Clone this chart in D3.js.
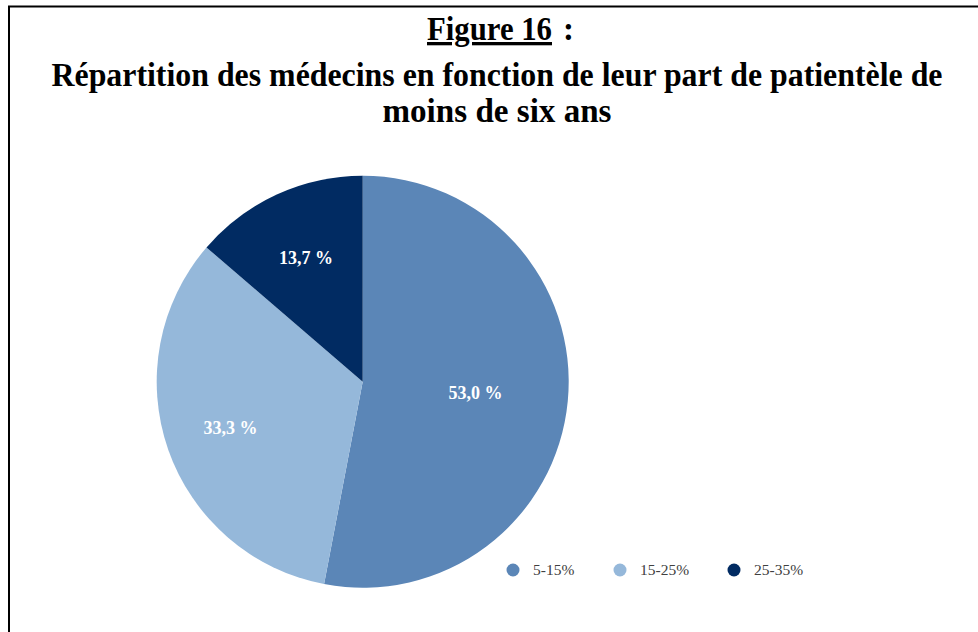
<!DOCTYPE html>
<html>
<head>
<meta charset="utf-8">
<script src="https://cdn.jsdelivr.net/npm/d3@7"></script>
<style>
  body { margin: 0; background: #fff; }
  svg { display: block; }
</style>
</head>
<body>
<svg id="drawing_region"></svg>
<script>
// data
const categories = ["5-15%", "15-25%", "25-35%"];
const shares = [53.0, 33.3, 13.7];
const shareLabels = ["53,0 %", "33,3 %", "13,7 %"];
const colors = ["#5b86b7", "#95b8da", "#012b62"];

const width = 978, height = 632;

const svg = d3.select("#drawing_region")
    .attr("width", width)
    .attr("height", height);

// frame (right and bottom edges fall outside the picture)
svg.append("rect")
    .attr("x", 9).attr("y", 6.5)
    .attr("width", 1000).attr("height", 700)
    .attr("fill", "none")
    .attr("stroke", "#000")
    .attr("stroke-width", 2);

// title, three lines, fitted to the widths seen in the reference
const titleFont = "'Liberation Serif', 'Times New Roman', serif";
const title = svg.append("g")
    .attr("font-family", titleFont)
    .attr("font-weight", "bold")
    .attr("font-size", 33)
    .attr("fill", "#000");

title.append("text")
    .attr("x", 427).attr("y", 40)
    .attr("textLength", 125)
    .attr("lengthAdjust", "spacingAndGlyphs")
    .attr("text-decoration", "underline")
    .text("Figure 16");
title.append("text")
    .attr("x", 563).attr("y", 40)
    .text(":");

const titleLines = [
    { text: "Répartition des médecins en fonction de leur part de patientèle de", y: 86, w: 891 },
    { text: "moins de six ans", y: 122, w: 229 }
];
titleLines.forEach(l => {
    title.append("text")
        .attr("x", 497).attr("y", l.y)
        .attr("text-anchor", "middle")
        .attr("textLength", l.w)
        .attr("lengthAdjust", "spacingAndGlyphs")
        .text(l.text);
});

// pie
const cx = 362.7, cy = 381.7, radius = 206;
const chart = svg.append("g")
    .attr("transform", `translate(${cx}, ${cy})`);

const pie = d3.pie().sort(null).value(d => d);
const arcs = pie(shares);
const arc = d3.arc().innerRadius(0).outerRadius(radius);

chart.selectAll("path")
    .data(arcs)
    .enter()
    .append("path")
    .attr("d", arc)
    .attr("fill", (d, i) => colors[i]);

// labels sit a bit closer to the centre on the large slice
const labelFactor = [0.55, 0.68, 0.66];
chart.selectAll("text.lbl")
    .data(arcs)
    .enter()
    .append("text")
    .attr("class", "lbl")
    .attr("transform", (d, i) => {
        const r = radius * labelFactor[i];
        const c = d3.arc().innerRadius(r).outerRadius(r).centroid(d);
        return `translate(${c[0]}, ${c[1]})`;
    })
    .attr("text-anchor", "middle")
    .attr("dy", "0.35em")
    .attr("font-family", titleFont)
    .attr("font-weight", "bold")
    .attr("font-size", 18)
    .attr("fill", "#fff")
    .text((d, i) => shareLabels[i]);

// legend
const xs = [513, 620, 734];
const legend = svg.append("g")
    .selectAll("g")
    .data(categories)
    .enter()
    .append("g")
    .attr("transform", (d, i) => `translate(${xs[i]}, 570)`);

legend.append("circle")
    .attr("r", 6.5)
    .attr("fill", (d, i) => colors[i]);

legend.append("text")
    .attr("x", 20)
    .attr("dy", "0.35em")
    .attr("font-family", titleFont)
    .attr("font-size", 15.5)
    .attr("fill", "#404040")
    .text(d => d);
</script>
</body>
</html>
